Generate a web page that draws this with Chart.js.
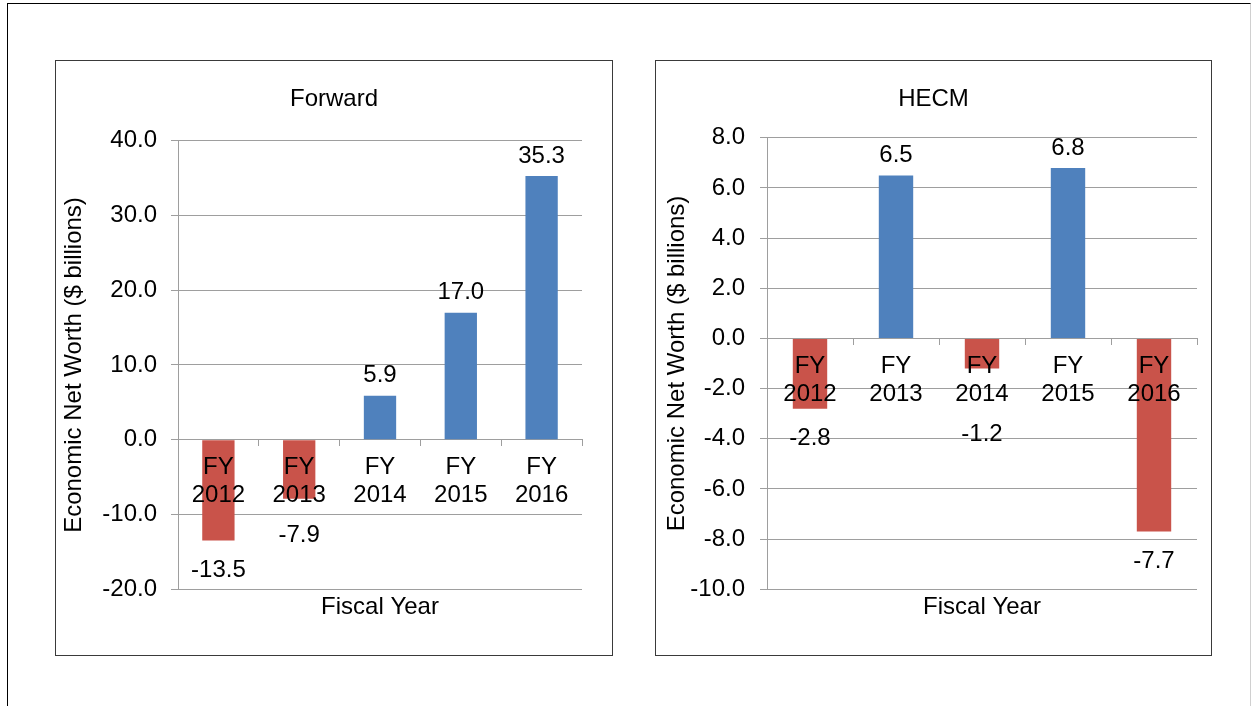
<!DOCTYPE html>
<html>
<head>
<meta charset="utf-8">
<script src="https://cdn.jsdelivr.net/npm/chart.js@4/dist/chart.umd.min.js"></script>
<style>
  body { margin: 0; background: #fff; width: 1255px; height: 706px; overflow: hidden; position: relative; }
  .frame { position: absolute; left: 7px; top: 3px; width: 1242px; height: 720px; border-left: 1px solid #000; border-top: 1px solid #000; border-right: 1px solid #d0d0d0; }
  .panel { position: absolute; top: 60px; height: 594px; border: 1px solid #3a3a3a; background: #fff; }
  #pFwd { left: 55px; width: 556px; }
  #pHecm { left: 655px; width: 555px; }
  canvas { display: block; }
</style>
</head>
<body>
<div class="frame"></div>
<div class="panel" id="pFwd"><canvas id="cFwd" width="556" height="594"></canvas></div>
<div class="panel" id="pHecm"><canvas id="cHecm" width="555" height="594"></canvas></div>
<script>
const yearLabels = [["FY", "2012"], ["FY", "2013"], ["FY", "2014"], ["FY", "2015"], ["FY", "2016"]];
const forwardValues = [-13.5, -7.9, 5.9, 17.0, 35.3];
const hecmValues = [-2.8, 6.5, -1.2, 6.8, -7.7];
const forwardRange = [-20, 40, 10];   // min, max, step
const hecmRange = [-10, 8, 2];

const BLUE = "#4F81BD";
const RED = "#C9534A";
const GRID = "#9e9e9e";
const FONT = '"Liberation Sans", Arial, sans-serif';

Chart.defaults.font.family = FONT;
Chart.defaults.color = "#000";

// value labels: above positive bars, below negative ones (clear of the category text)
const valueLabels = {
    id: "valueLabels",
    afterDatasetsDraw(chart) {
        const ctx = chart.ctx;
        const meta = chart.getDatasetMeta(0);
        const values = chart.data.datasets[0].data;
        const zero = chart.scales.y.getPixelForValue(0);
        ctx.save();
        ctx.font = `24px ${FONT}`;
        ctx.fillStyle = "#000";
        ctx.textAlign = "center";
        ctx.textBaseline = "middle";
        meta.data.forEach((bar, i) => {
            const v = values[i];
            const y = v >= 0 ? bar.y - 20 : Math.max(bar.y + 30, zero + 96);
            ctx.fillText(v.toFixed(1), bar.x, y);
        });
        ctx.restore();
    },
};

function buildChart(canvasId, titleText, values, range, box) {
    return new Chart(document.getElementById(canvasId), {
        type: "bar",
        data: {
            labels: yearLabels,
            datasets: [{
                data: values,
                backgroundColor: (c) => (c.raw < 0 ? RED : BLUE),
                borderWidth: 0,
                barPercentage: 0.4,
                categoryPercentage: 1,
            }],
        },
        plugins: [valueLabels],
        options: {
            responsive: false,
            animation: false,
            layout: { padding: 0 },
            plugins: {
                legend: { display: false },
                tooltip: { enabled: false },
                title: {
                    display: true,
                    text: titleText,
                    color: "#000",
                    font: { size: 24, weight: "normal", lineHeight: 1.2 },
                    padding: { top: 24, bottom: box.titleGap },
                },
                subtitle: {
                    display: true,
                    text: "Fiscal Year",
                    position: "bottom",
                    fullSize: false,
                    color: "#000",
                    font: { size: 24, lineHeight: 1.2 },
                    padding: { top: 4, bottom: 33 },
                },
            },
            scales: {
                x: {
                    position: { y: 0 },
                    grid: { drawOnChartArea: false, tickLength: 6, color: GRID },
                    border: { color: GRID },
                    ticks: {
                        z: 1,
                        padding: 8,
                        color: "#000",
                        font: { size: 24, lineHeight: 1.17 },
                        maxRotation: 0,
                        autoSkip: false,
                    },
                },
                y: {
                    min: range[0],
                    max: range[1],
                    ticks: {
                        stepSize: range[2],
                        padding: box.tickPad,
                        color: "#000",
                        font: { size: 24 },
                        callback: (v) => Number(v).toFixed(1),
                    },
                    grid: { color: GRID, tickLength: 7 },
                    border: { color: GRID },
                    title: {
                        display: true,
                        text: "Economic Net Worth ($ billions)",
                        color: "#000",
                        font: { size: 24, lineHeight: 1.2 },
                        padding: { top: box.yTitlePad, bottom: 0 },
                    },
                    afterFit: (s) => { s.width = box.left; },
                },
                y2: {
                    type: "linear",
                    position: "right",
                    display: true,
                    grid: { display: false },
                    border: { display: false },
                    ticks: { display: false },
                    afterFit: (s) => { s.width = box.right; },
                },
            },
        },
    });
}

buildChart("cFwd", "Forward", forwardValues, forwardRange, { left: 122, right: 30, titleGap: 27, tickPad: 14, yTitlePad: 4 });
buildChart("cHecm", "HECM", hecmValues, hecmRange, { left: 111, right: 14, titleGap: 24, tickPad: 15, yTitlePad: 7 });
</script>
</body>
</html>
